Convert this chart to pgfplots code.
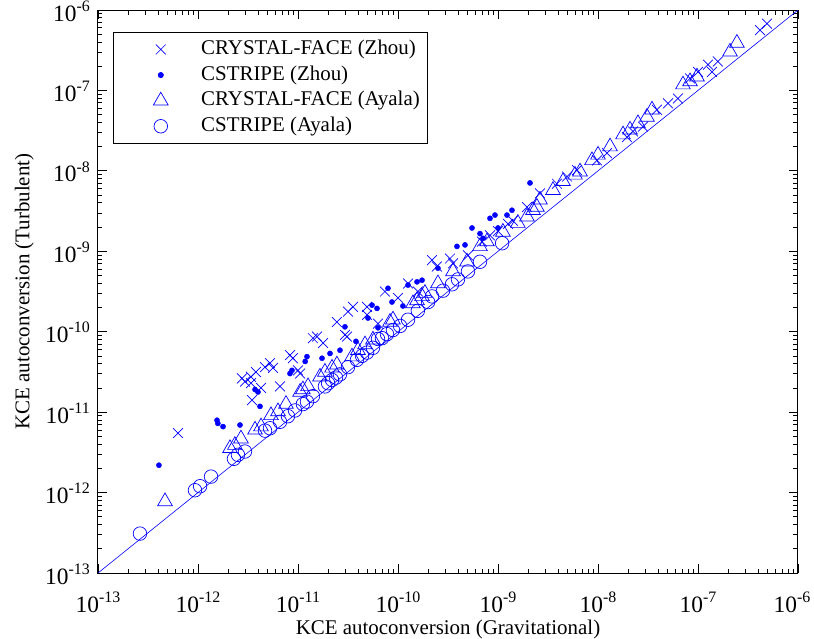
\documentclass[border=0pt]{standalone}
\usepackage{pgfplots}
\pgfplotsset{compat=1.18}
\usepackage{fontspec}
\setmainfont{Liberation Serif}
\definecolor{mblue}{RGB}{0,0,255}
\newcommand{\bigf}{\fontsize{21}{25}\selectfont}
\newcommand{\tl}[1]{{\fontsize{23.5}{27}\selectfont 10\raisebox{0.42em}{\fontsize{16}{19}\selectfont #1}}}
\begin{document}
\begin{tikzpicture}
\begin{axis}[
  xmode=log, ymode=log,
  scale only axis, width=700bp, height=563bp,
  xmin=1e-13, xmax=1e-6, ymin=1e-13, ymax=1e-6,
  xtick={1e-13,1e-12,1e-11,1e-10,1e-9,1e-8,1e-7,1e-6},
  ytick={1e-13,1e-12,1e-11,1e-10,1e-9,1e-8,1e-7,1e-6},
  xticklabels={\tl{-13},\tl{-12},\tl{-11},\tl{-10},\tl{-9},\tl{-8},\tl{-7},\tl{-6}\kern12bp},
  yticklabels={\tl{-13},\tl{-12},\tl{-11},\tl{-10},\tl{-9},\tl{-8},\tl{-7},\tl{-6}},
  tick pos=both, tick align=inside,
  major tick length=9bp, minor tick length=4.5bp,
  every tick/.style={black, line width=0.8pt},
  axis line style={line width=1pt},
  xticklabel style={anchor=base, inner sep=0pt, yshift=-39bp},
  yticklabel style={anchor=base east, inner sep=0pt, xshift=-8bp, yshift=-11bp},
  xlabel={\bigf KCE autoconversion (Gravitational)},
  ylabel={\bigf KCE autoconversion (Turbulent)},
  xlabel style={at={(axis description cs:0.5,0)}, anchor=base, inner sep=0pt, yshift=-61bp},
  ylabel style={at={(axis description cs:0,0.5)}, anchor=base, inner sep=0pt, yshift=68.6bp},
  legend style={at={(0.0210,0.9617)}, anchor=north west, draw=black, line width=0.8pt,
    inner xsep=8bp, inner ysep=7.5bp, row sep=5.6bp, column sep=0bp,
    nodes={inner sep=0pt, text height=15bp, text depth=5bp}},
  legend cell align=left,
  legend image code/.code={\path (-39.3bp,0bp) (40bp,0bp); \draw[#1] plot coordinates {(0bp,0bp)};},
  clip=true,
]
\addplot[only marks, mark=x, mark size=7, mblue, line width=0.7pt] coordinates {
(6.31e-13,5.50e-12) (2.95e-12,2.40e-11) (3.39e-12,2.29e-11) (4.27e-12,2.00e-11) (3.47e-12,1.41e-11)
(6.61e-12,2.09e-11) (2.75e-12,2.63e-11) (3.39e-12,2.75e-11) (3.80e-12,3.16e-11) (4.68e-12,3.63e-11)
(5.25e-12,4.07e-11) (5.62e-12,3.55e-11) (8.32e-12,5.13e-11) (8.91e-12,4.68e-11) (1.00e-11,3.31e-11)
(1.05e-11,3.02e-11) (1.55e-11,8.71e-11) (1.78e-11,7.24e-11) (1.41e-11,8.32e-11) (2.45e-11,1.32e-10)
(3.16e-11,1.78e-10) (3.55e-11,2.04e-10) (4.90e-11,2.04e-10) (4.90e-11,1.62e-10) (3.09e-11,8.71e-11)
(2.95e-11,9.12e-11) (7.41e-11,3.16e-10) (1.00e-10,2.63e-10) (1.26e-10,3.98e-10) (2.19e-10,7.76e-10)
(2.45e-10,6.46e-10) (3.31e-10,8.13e-10) (3.55e-10,7.08e-10) (6.92e-10,1.32e-9) (8.32e-10,1.58e-9)
(1.95e-9,3.55e-9) (2.63e-9,5.25e-9) (3.89e-9,6.92e-9) (4.90e-9,8.51e-9) (6.17e-9,1.02e-8)
(9.77e-9,1.35e-8) (1.23e-8,1.66e-8) (1.95e-8,2.63e-8) (2.24e-8,3.09e-8) (2.82e-8,3.55e-8)
(3.89e-8,5.75e-8) (5.01e-8,6.92e-8) (6.31e-8,7.94e-8) (8.32e-8,1.41e-7) (1.00e-7,1.70e-7)
(1.26e-7,2.09e-7) (1.58e-7,2.29e-7) (1.38e-7,1.70e-7) (4.17e-7,5.62e-7) (4.90e-7,6.76e-7)
(5.01e-10,8.91e-10) (1.00e-9,1.78e-9) (1.26e-9,2.19e-9) (1.41e-9,2.40e-9) (6.31e-11,1.26e-10)
(1.58e-10,3.16e-10)
};
\addlegendentry{\bigf CRYSTAL-FACE (Zhou)}
\addplot[only marks, mark=*, mark size=2.6, mblue] coordinates {
(4.07e-13,2.19e-12) (1.55e-12,7.94e-12) (1.58e-12,7.24e-12) (1.78e-12,6.61e-12) (2.63e-12,6.92e-12)
(3.72e-12,1.91e-11) (3.98e-12,1.78e-11) (4.17e-12,1.18e-11) (8.32e-12,3.02e-11) (8.71e-12,3.31e-11)
(1.23e-11,4.90e-11) (1.18e-11,4.27e-11) (1.74e-11,4.68e-11) (2.09e-11,5.37e-11) (2.63e-11,5.89e-11)
(2.95e-11,1.15e-10) (5.01e-11,1.48e-10) (5.50e-11,2.14e-10) (6.17e-11,1.95e-10) (7.94e-11,3.47e-10)
(8.71e-11,2.34e-10) (1.26e-10,3.80e-10) (1.55e-10,4.17e-10) (1.74e-10,4.37e-10) (2.51e-10,6.17e-10)
(3.89e-10,1.15e-9) (4.68e-10,1.20e-9) (5.50e-10,1.95e-9) (6.61e-10,1.66e-9) (8.32e-10,2.57e-9)
(9.33e-10,2.82e-9) (1.23e-9,2.82e-9) (1.38e-9,3.24e-9) (2.09e-9,7.08e-9) (1.00e-9,1.95e-9)
(7.08e-10,1.45e-9) (3.80e-11,7.59e-11) (6.31e-11,1.12e-10) (1.12e-10,2.09e-10)
};
\addlegendentry{\bigf CSTRIPE (Zhou)}
\addplot[only marks, mark=triangle, mark size=8.5, mblue, line width=0.7pt] coordinates {
(4.68e-13,7.76e-13) (2.09e-12,3.55e-12) (2.34e-12,3.89e-12) (2.69e-12,4.68e-12) (3.72e-12,6.03e-12)
(4.27e-12,6.61e-12) (5.37e-12,9.12e-12) (6.31e-12,1.02e-11) (1.05e-11,1.78e-11) (1.12e-11,1.91e-11)
(1.66e-11,2.75e-11) (1.86e-11,3.16e-11) (2.19e-11,3.55e-11) (2.45e-11,3.89e-11) (3.47e-11,4.90e-11)
(3.98e-11,5.89e-11) (4.68e-11,6.92e-11) (5.62e-11,7.94e-11) (8.32e-11,1.32e-10) (8.91e-11,1.41e-10)
(1.41e-10,2.24e-10) (1.55e-10,2.45e-10) (1.74e-10,2.75e-10) (1.86e-10,3.02e-10) (4.90e-10,7.41e-10)
(6.61e-10,1.15e-9) (7.76e-10,1.32e-9) (1.12e-9,1.74e-9) (1.58e-9,2.24e-9) (1.95e-9,2.69e-9)
(2.24e-9,3.24e-9) (2.45e-9,3.55e-9) (2.63e-9,4.37e-9) (3.55e-9,5.75e-9) (4.47e-9,7.41e-9)
(5.89e-9,8.91e-9) (6.61e-9,9.77e-9) (8.71e-9,1.35e-8) (1.00e-8,1.58e-8) (1.32e-8,2.00e-8)
(1.78e-8,2.82e-8) (2.09e-8,3.24e-8) (2.51e-8,3.89e-8) (3.09e-8,4.68e-8) (3.47e-8,5.75e-8)
(7.08e-8,1.18e-7) (8.32e-8,1.29e-7) (9.77e-8,1.48e-7) (2.09e-7,3.02e-7) (2.45e-7,3.89e-7)
(2.51e-10,3.98e-10) (3.55e-10,5.62e-10) (1.26e-11,2.09e-11) (7.59e-12,1.26e-11)
};
\addlegendentry{\bigf CRYSTAL-FACE (Ayala)}
\addplot[only marks, mark=o, mark size=6.8, mblue, line width=0.7pt] coordinates {
(2.63e-13,3.09e-13) (9.33e-13,1.07e-12) (1.05e-12,1.20e-12) (1.35e-12,1.58e-12) (2.29e-12,2.63e-12)
(2.51e-12,2.95e-12) (2.95e-12,3.24e-12) (4.68e-12,5.89e-12) (5.25e-12,6.31e-12) (7.94e-12,8.91e-12)
(9.33e-12,1.05e-11) (1.12e-11,1.26e-11) (1.23e-11,1.35e-11) (1.86e-11,2.09e-11) (2.00e-11,2.29e-11)
(2.19e-11,2.51e-11) (2.63e-11,2.95e-11) (3.16e-11,3.63e-11) (3.89e-11,4.47e-11) (4.90e-11,5.50e-11)
(6.31e-11,8.13e-11) (7.76e-11,9.33e-11) (8.91e-11,1.05e-10) (1.05e-10,1.18e-10) (1.26e-10,1.41e-10)
(2.19e-10,2.75e-10) (2.82e-10,3.24e-10) (3.47e-10,3.89e-10) (3.98e-10,4.47e-10) (5.01e-10,5.62e-10)
(6.61e-10,7.41e-10) (1.10e-9,1.26e-9) (6.61e-12,7.59e-12) (1.41e-11,1.58e-11) (2.40e-11,2.69e-11)
(4.37e-11,5.01e-11) (6.92e-11,8.32e-11) (1.58e-10,1.82e-10) (2.00e-10,2.34e-10) (5.62e-11,6.31e-11)
};
\addlegendentry{\bigf CSTRIPE (Ayala)}
\addplot[mblue, line width=0.6pt, forget plot] coordinates {(1e-13,1e-13) (1e-6,1e-6)};
\end{axis}
\pgfresetboundingbox
\path[use as bounding box] (-98bp,-66bp) rectangle (716bp,573bp);
\end{tikzpicture}
\end{document}
